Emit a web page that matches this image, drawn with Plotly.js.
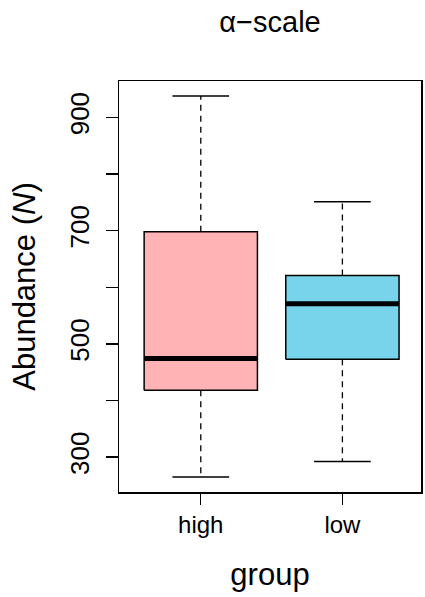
<!DOCTYPE html>
<html>
<head>
<meta charset="utf-8">
<script src="https://cdn.plot.ly/plotly-3.0.1.min.js"></script>
<style>html,body{margin:0;padding:0;background:#fff;}#chart{width:425px;height:597px;}</style>
</head>
<body>
<div id="chart"></div>
<script>
// Data
var groups = ['high', 'low'];
var lowerWhisker = [265, 292];
var q1 = [418, 473];
var medians = [474, 571];
var q3 = [698, 621];
var upperWhisker = [938, 751];
var boxColors = ['#FFB3B5', '#77D4EB'];
var yTickVals = [300, 400, 500, 600, 700, 800, 900];
var yTickText = ['300', '', '500', '', '700', '', '900'];

var BOX_HALF = 0.4, CAP_HALF = 0.2;
var traces = [];
for (var i = 0; i < groups.length; i++) {
  var c = i + 1;
  // box body
  traces.push({
    type: 'scatter', mode: 'lines', fill: 'toself', fillcolor: boxColors[i],
    x: [c - BOX_HALF, c + BOX_HALF, c + BOX_HALF, c - BOX_HALF, c - BOX_HALF],
    y: [q1[i], q1[i], q3[i], q3[i], q1[i]],
    line: {color: '#000', width: 1.5}, hoverinfo: 'skip', showlegend: false
  });
  // whiskers (dashed)
  traces.push({
    type: 'scatter', mode: 'lines',
    x: [c, c, null, c, c],
    y: [q3[i], upperWhisker[i], null, q1[i], lowerWhisker[i]],
    line: {color: '#000', width: 1.3, dash: '6px,5px'}, hoverinfo: 'skip', showlegend: false
  });
  // caps
  traces.push({
    type: 'scatter', mode: 'lines',
    x: [c - CAP_HALF, c + CAP_HALF, null, c - CAP_HALF, c + CAP_HALF],
    y: [upperWhisker[i], upperWhisker[i], null, lowerWhisker[i], lowerWhisker[i]],
    line: {color: '#000', width: 1.5}, hoverinfo: 'skip', showlegend: false
  });
  // median
  traces.push({
    type: 'scatter', mode: 'lines',
    x: [c - BOX_HALF, c + BOX_HALF],
    y: [medians[i], medians[i]],
    line: {color: '#000', width: 5}, hoverinfo: 'skip', showlegend: false
  });
}

var FONT = 'Liberation Sans, Arial, Helvetica, sans-serif';
var layout = {
  width: 425, height: 597,
  margin: {l: 119, r: 4, t: 81, b: 105, pad: 0},
  paper_bgcolor: '#fff', plot_bgcolor: '#fff',
  font: {family: FONT, color: '#000'},
  title: {
    text: 'α\u2212scale', font: {size: 29, family: FONT, color: '#000'},
    xref: 'paper', x: 0.5, xanchor: 'center',
    yref: 'container', y: 1 - 22 / 597, yanchor: 'middle'
  },
  xaxis: {
    range: [0.4225, 2.555], tickvals: [1, 2], ticktext: groups,
    ticks: 'outside', ticklen: 11, tickwidth: 1.3, tickcolor: '#000',
    tickfont: {size: 24, family: FONT, color: '#000'},
    showline: true, linecolor: '#000', linewidth: 1.5, mirror: true,
    showgrid: false, zeroline: false, fixedrange: true,
    title: {text: 'group', font: {size: 31, family: FONT, color: '#000'}, standoff: 26}
  },
  yaxis: {
    range: [238.3, 964.5], tickvals: yTickVals, ticktext: yTickText, tickangle: -90,
    ticks: 'outside', ticklen: 12, tickwidth: 1.3, tickcolor: '#000', ticklabelstandoff: 6,
    tickfont: {size: 26, family: FONT, color: '#000'},
    showline: true, linecolor: '#000', linewidth: 1.5, mirror: true,
    showgrid: false, zeroline: false, fixedrange: true,
    title: {text: 'Abundance (<i>N</i>)', font: {size: 31, family: FONT, color: '#000'}, standoff: 20}
  }
};

Plotly.newPlot('chart', traces, layout, {displayModeBar: false, staticPlot: true});
</script>
</body>
</html>
